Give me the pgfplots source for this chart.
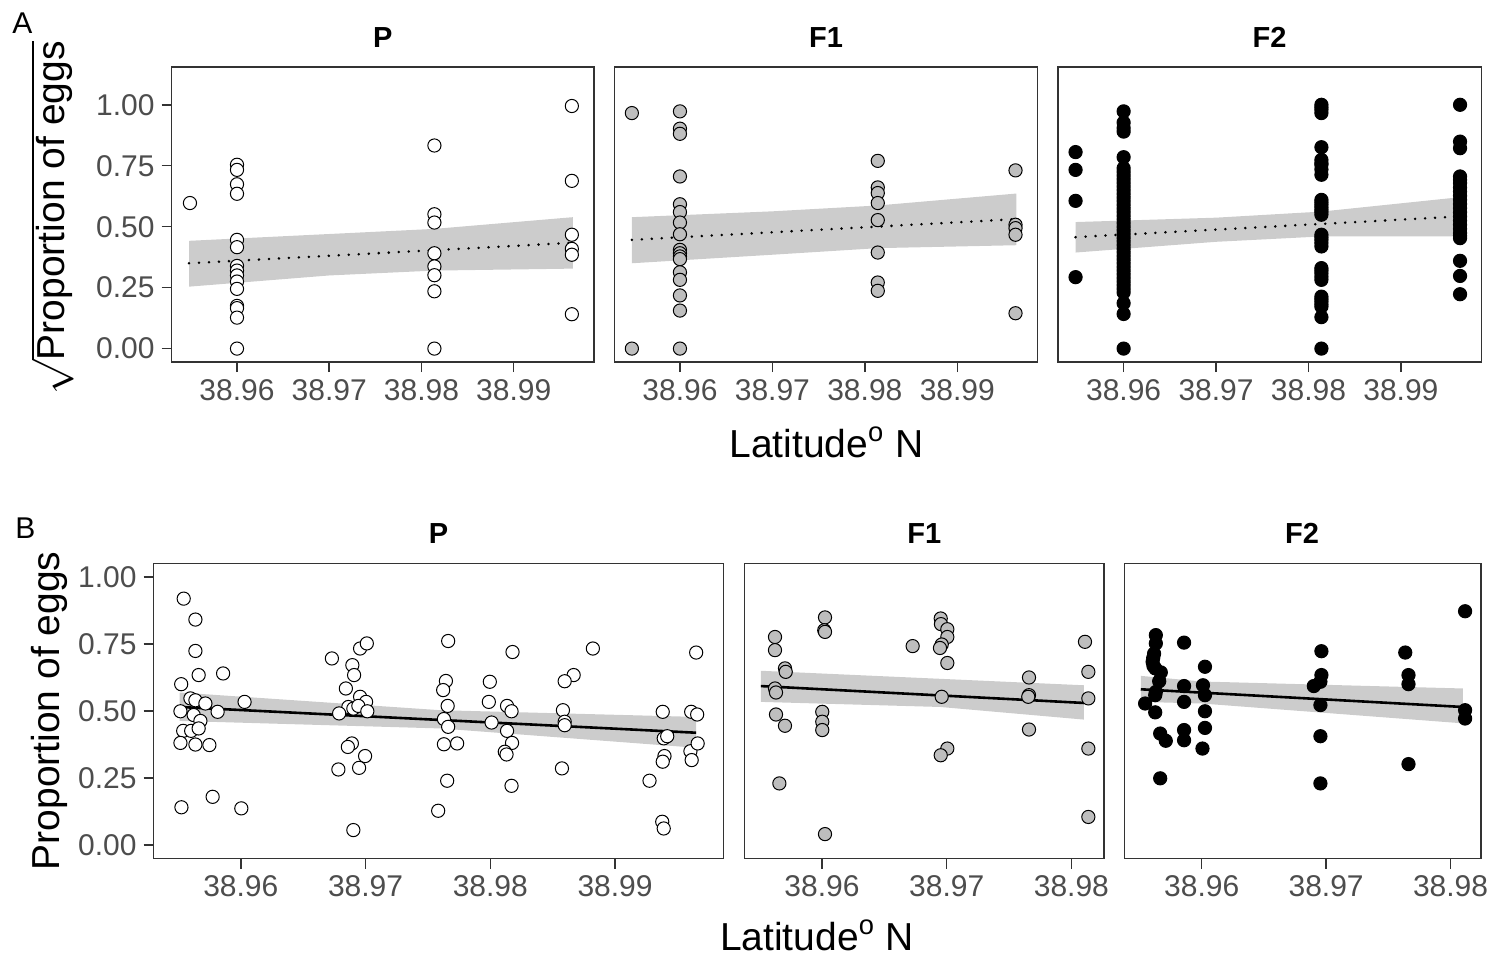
\documentclass[border=0pt]{standalone}
\usepackage{pgfplots}
\pgfplotsset{compat=1.18}
\usepackage{fontspec}
\setmainfont{Liberation Sans}
\definecolor{c33}{HTML}{333333}
\definecolor{c4d}{HTML}{4D4D4D}
\definecolor{ribc}{HTML}{CCCCCC}
\definecolor{f1c}{HTML}{BEBEBE}
\pgfplotsset{
  base/.style={scale only axis, axis line style={draw=c33,line width=0.75pt},
    tick style={draw=c33,line width=0.75pt}, tick align=outside, major tick length=5pt,
    tick pos=left, minor tick num=0, scaled ticks=false,
    ticklabel style={font=\fontsize{15}{15}\selectfont, text=c4d},
    /pgf/number format/assume math mode=true,
    x tick label style={/pgf/number format/fixed,/pgf/number format/precision=2,/pgf/number format/fixed zerofill},
    y tick label style={/pgf/number format/fixed,/pgf/number format/precision=2,/pgf/number format/fixed zerofill},
  },
  top/.style={base, height=147.5pt, ymin=-0.055, ymax=1.155, xmin=38.9529, xmax=38.9987,
    xtick={38.96,38.97,38.98,38.99}, ytick={0,0.25,0.5,0.75,1}},
  bot/.style={base, height=147.5pt, ymin=-0.05, ymax=1.05, ytick={0,0.25,0.5,0.75,1}},
  pts/.style={only marks, mark=*, mark size=3.3pt, mark options={draw=black, line width=0.5pt, fill=#1}},
  rib/.style={fill=ribc, draw=none, mark=none},
  dotl/.style={black, line width=1.4pt, line cap=round, dash pattern=on 0pt off 5pt, mark=none},
  soll/.style={black, line width=1.3pt, mark=none},
}
\begin{document}
\begin{tikzpicture}
\useasboundingbox (0,0) rectangle (747pt,-479pt);
% ---------------- Top row ----------------
\begin{axis}[top, width=211.25pt, at={(85.75pt,-33.5pt)}, anchor=north west]
\addplot[rib] coordinates {(38.9548,0.442)(38.9700,0.470)(38.9814,0.491)(38.9964,0.539)(38.9964,0.328)(38.9814,0.320)(38.9700,0.300)(38.9548,0.254)};
\addplot[dotl] coordinates {(38.9548,0.350)(38.9964,0.434)};
\addplot[pts=white] coordinates {
(38.9549,0.597)
(38.96,0.754)(38.96,0.733)(38.96,0.674)(38.96,0.635)(38.96,0.446)(38.96,0.416)(38.96,0.339)(38.96,0.320)(38.96,0.300)(38.96,0.275)(38.96,0.245)(38.96,0.175)(38.96,0.166)(38.96,0.127)(38.96,0.000)
(38.9814,0.833)(38.9814,0.551)(38.9814,0.517)(38.9814,0.391)(38.9814,0.337)(38.9814,0.301)(38.9814,0.235)(38.9814,0.000)
(38.9963,0.995)(38.9963,0.688)(38.9963,0.467)(38.9963,0.409)(38.9963,0.385)(38.9963,0.141)};
\end{axis}
\begin{axis}[top, width=211.7pt, at={(307.15pt,-33.5pt)}, anchor=north west, ytick=\empty]
\addplot[rib] coordinates {(38.9548,0.539)(38.9700,0.563)(38.9814,0.587)(38.9964,0.636)(38.9964,0.424)(38.9814,0.412)(38.9700,0.385)(38.9548,0.350)};
\addplot[dotl] coordinates {(38.9548,0.446)(38.9964,0.531)};
\addplot[pts=f1c] coordinates {
(38.9548,0.966)(38.9548,0.000)
(38.96,0.973)(38.96,0.902)(38.96,0.881)(38.96,0.706)(38.96,0.592)(38.96,0.560)(38.96,0.517)(38.96,0.469)(38.96,0.405)(38.96,0.391)(38.96,0.378)(38.96,0.367)(38.96,0.313)(38.96,0.282)(38.96,0.218)(38.96,0.156)(38.96,0.000)
(38.9814,0.770)(38.9814,0.661)(38.9814,0.638)(38.9814,0.597)(38.9814,0.527)(38.9814,0.394)(38.9814,0.271)(38.9814,0.237)
(38.9963,0.731)(38.9963,0.508)(38.9963,0.494)(38.9963,0.467)(38.9963,0.145)};
\end{axis}
\begin{axis}[top, width=211.65pt, at={(529pt,-33.5pt)}, anchor=north west, ytick=\empty]
\addplot[rib] coordinates {(38.9548,0.519)(38.9700,0.537)(38.9814,0.562)(38.9964,0.621)(38.9964,0.460)(38.9814,0.460)(38.9700,0.438)(38.9548,0.394)};
\addplot[dotl] coordinates {(38.9548,0.457)(38.9964,0.542)};
\addplot[pts=black] coordinates {
(38.9548,0.806)(38.9548,0.733)(38.9548,0.606)(38.9548,0.293)
(38.96,0.973)(38.96,0.927)(38.96,0.905)(38.96,0.890)(38.96,0.785)
(38.96,0.740)(38.96,0.725)(38.96,0.710)(38.96,0.695)(38.96,0.680)(38.96,0.665)(38.96,0.650)(38.96,0.635)(38.96,0.620)(38.96,0.605)(38.96,0.590)(38.96,0.575)(38.96,0.560)(38.96,0.545)(38.96,0.530)(38.96,0.515)(38.96,0.500)(38.96,0.485)(38.96,0.470)(38.96,0.455)(38.96,0.440)(38.96,0.425)(38.96,0.410)(38.96,0.395)(38.96,0.380)(38.96,0.365)(38.96,0.350)(38.96,0.335)(38.96,0.320)(38.96,0.305)(38.96,0.290)(38.96,0.275)(38.96,0.260)(38.96,0.245)(38.96,0.230)
(38.96,0.186)(38.96,0.142)(38.96,0.000)
(38.9814,1.000)(38.9814,0.990)(38.9814,0.980)(38.9814,0.966)(38.9814,0.826)(38.9814,0.774)(38.9814,0.760)(38.9814,0.754)(38.9814,0.735)(38.9814,0.713)(38.9814,0.610)(38.9814,0.600)(38.9814,0.590)(38.9814,0.580)(38.9814,0.569)(38.9814,0.560)(38.9814,0.549)(38.9814,0.467)(38.9814,0.457)(38.9814,0.446)(38.9814,0.433)(38.9814,0.419)(38.9814,0.330)(38.9814,0.320)(38.9814,0.309)(38.9814,0.295)(38.9814,0.282)(38.9814,0.213)(38.9814,0.203)(38.9814,0.193)(38.9814,0.182)(38.9814,0.172)(38.9814,0.129)(38.9814,0.000)
(38.9964,1.000)(38.9964,0.849)(38.9964,0.822)(38.9964,0.706)(38.9964,0.692)(38.9964,0.679)(38.9964,0.660)(38.9964,0.644)(38.9964,0.627)(38.9964,0.610)(38.9964,0.593)(38.9964,0.576)(38.9964,0.559)(38.9964,0.542)(38.9964,0.525)(38.9964,0.508)(38.9964,0.491)(38.9964,0.474)(38.9964,0.463)(38.9964,0.453)(38.9964,0.360)(38.9964,0.298)(38.9964,0.223)};
\end{axis}
% ---------------- Bottom row ----------------
\begin{axis}[bot, width=285.05pt, at={(76.75pt,-281.75pt)}, anchor=north west, xmin=38.9530, xmax=38.9987, xtick={38.96,38.97,38.98,38.99}]
\addplot[rib] coordinates {(38.9551,0.569)(38.9760,0.503)(38.9965,0.478)(38.9965,0.363)(38.9760,0.435)(38.9551,0.463)};
\addplot[soll] coordinates {(38.9551,0.515)(38.9965,0.419)};
\addplot[pts=white] coordinates {
(38.95542,0.919)(38.95636,0.841)(38.95636,0.724)(38.95662,0.634)(38.95858,0.640)(38.95522,0.600)(38.95596,0.547)(38.95636,0.540)(38.95716,0.528)(38.96030,0.534)
(38.95516,0.499)(38.95622,0.485)(38.95814,0.497)(38.95676,0.463)(38.95538,0.426)(38.95602,0.426)(38.95662,0.435)(38.95516,0.381)(38.95636,0.375)(38.95748,0.373)
(38.95524,0.141)(38.95774,0.180)(38.96004,0.137)
(38.96730,0.696)(38.96956,0.733)(38.97010,0.752)(38.96894,0.671)(38.96908,0.634)(38.96842,0.584)(38.96956,0.553)(38.97004,0.534)(38.96862,0.515)(38.96902,0.509)
(38.96942,0.519)(38.97014,0.499)(38.96788,0.491)(38.96890,0.379)(38.96858,0.366)(38.96996,0.332)(38.96782,0.282)(38.96948,0.288)(38.96902,0.056)
(38.97582,0.128)(38.97662,0.761)(38.97644,0.612)(38.97622,0.578)(38.97658,0.519)(38.97628,0.470)(38.97662,0.441)(38.97628,0.376)(38.97734,0.379)(38.97654,0.240)
(38.98178,0.720)(38.97996,0.609)(38.97988,0.534)(38.98010,0.457)(38.98134,0.519)(38.98170,0.499)(38.98134,0.426)(38.98174,0.381)(38.98116,0.348)(38.98130,0.338)(38.98170,0.221)
(38.98822,0.733)(38.98668,0.634)(38.98596,0.611)(38.98582,0.503)(38.98596,0.460)(38.98596,0.447)(38.98574,0.286)
(38.99382,0.497)(38.99650,0.718)(38.99610,0.497)(38.99658,0.487)(38.99390,0.398)(38.99418,0.406)(38.99396,0.332)(38.99382,0.311)(38.99604,0.350)(38.99662,0.379)
(38.99614,0.317)(38.99276,0.240)(38.99378,0.087)(38.99390,0.062)};
\end{axis}
\begin{axis}[bot, width=179.55pt, at={(372.35pt,-281.75pt)}, anchor=north west, xmin=38.9538, xmax=38.9826, xtick={38.96,38.97,38.98}, ytick=\empty]
\addplot[rib] coordinates {(38.9551,0.650)(38.9695,0.620)(38.9810,0.596)(38.9810,0.468)(38.9695,0.515)(38.9551,0.534)};
\addplot[soll] coordinates {(38.9551,0.593)(38.9810,0.530)};
\addplot[pts=f1c] coordinates {
(38.95623,0.776)(38.95623,0.727)(38.95703,0.659)(38.95709,0.646)(38.95623,0.584)(38.95631,0.569)(38.95631,0.487)(38.95703,0.445)(38.95658,0.230)
(38.96024,0.849)(38.96018,0.801)(38.96024,0.795)(38.96002,0.497)(38.96002,0.460)(38.96002,0.429)(38.96024,0.041)
(38.96727,0.742)(38.96952,0.845)(38.96954,0.824)(38.97005,0.805)(38.97005,0.776)(38.96960,0.748)(38.96946,0.735)(38.97005,0.679)(38.96960,0.553)(38.97005,0.360)(38.96952,0.335)
(38.97660,0.625)(38.97660,0.559)(38.97654,0.553)(38.97660,0.431)
(38.98109,0.758)(38.98136,0.646)(38.98136,0.547)(38.98136,0.360)(38.98136,0.105)};
\end{axis}
\begin{axis}[bot, width=178.2pt, at={(562.3pt,-281.75pt)}, anchor=north west, xmin=38.9538, xmax=38.98245, xtick={38.96,38.97,38.98}, ytick=\empty]
\addplot[rib] coordinates {(38.9551,0.631)(38.9600,0.610)(38.9810,0.584)(38.9810,0.454)(38.9600,0.528)(38.9551,0.534)};
\addplot[soll] coordinates {(38.9551,0.581)(38.9810,0.515)};
\addplot[pts=black] coordinates {
(38.95631,0.783)(38.95631,0.752)(38.95617,0.714)(38.95610,0.698)(38.95605,0.683)(38.95612,0.668)(38.95626,0.659)(38.95671,0.644)(38.95658,0.611)(38.95631,0.571)(38.95626,0.559)
(38.95545,0.528)(38.95626,0.495)(38.95666,0.416)(38.95711,0.389)(38.95666,0.249)
(38.95858,0.755)(38.95858,0.593)(38.95858,0.534)(38.95858,0.429)(38.95858,0.391)
(38.96026,0.665)(38.96010,0.596)(38.96026,0.559)(38.96026,0.499)(38.96026,0.437)(38.96006,0.360)
(38.96962,0.723)(38.96962,0.634)(38.96954,0.609)(38.96901,0.593)(38.96954,0.522)(38.96954,0.406)(38.96954,0.230)
(38.97636,0.718)(38.97662,0.634)(38.97662,0.600)(38.97662,0.302)
(38.98117,0.872)(38.98117,0.503)(38.98117,0.472)};
\end{axis}
% ---------------- Texts ----------------
\node[anchor=base west, inner sep=0pt, font=\fontsize{15}{15}\selectfont] at (6pt,-16.5pt) {A};
\node[anchor=base west, inner sep=0pt, font=\fontsize{15}{15}\selectfont] at (7.5pt,-269pt) {B};
\begin{scope}[every node/.style={anchor=base, inner sep=0pt, font=\fontsize{14.5}{14.5}\selectfont\bfseries}]
\node at (191.4pt,-23.5pt) {P};
\node at (413pt,-23.5pt) {F1};
\node at (634.8pt,-23.5pt) {F2};
\node at (219.25pt,-271.5pt) {P};
\node at (462.1pt,-271.5pt) {F1};
\node at (651pt,-271.5pt) {F2};
\end{scope}
\begin{scope}[every node/.style={inner sep=0pt, font=\fontsize{19.5}{19.5}\selectfont}]
\node[anchor=base] at (413.2pt,-228.5pt) {Latitude\textsuperscript{o} N};
\node[anchor=base] at (408.5pt,-475pt) {Latitude\textsuperscript{o} N};
\node[rotate=90, anchor=center] at (26pt,-109pt) {$\sqrt{\mbox{Proportion of eggs}}$};
\node[rotate=90, anchor=center] at (24.5pt,-355.5pt) {Proportion of eggs};
\end{scope}
\end{tikzpicture}
\end{document}
